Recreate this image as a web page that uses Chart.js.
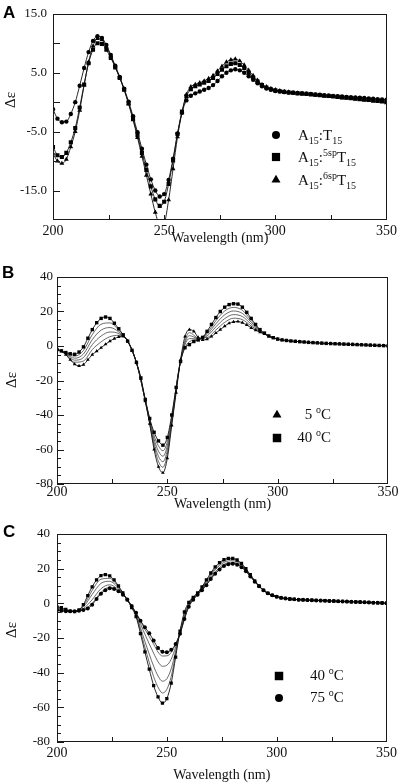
<!doctype html>
<html>
<head>
<meta charset="utf-8">
<title>CD spectra</title>
<script src="https://cdn.jsdelivr.net/npm/chart.js"></script>
<style>
  body { margin: 0; background: #fff; }
  canvas { position: absolute; left: 0; }
</style>
</head>
<body>
<canvas id="chartA" width="400" height="250" style="top:0"></canvas>
<canvas id="chartB" width="400" height="260" style="top:255px"></canvas>
<canvas id="chartC" width="400" height="269" style="top:515px"></canvas>

<script>
// wavelengths (nm), 2 nm steps
var nm = [200,202,204,206,208,210,212,214,216,218,220,222,224,226,228,230,232,234,236,238,
          240,242,244,246,248,250,252,254,256,258,260,262,264,266,268,270,272,274,276,278,
          280,282,284,286,288,290,292,294,296,298,300,302,304,306,308,310,312,314,316,318,
          320,322,324,326,328,330,332,334,336,338,340,342,344,346,348,350];
// sparse wavelengths for the plain intermediate curves
var midNm = [200,204,208,212,216,220,224,228,232,236,240,244,246,248,250,252,256,260,264,268,272,276,280,284,288,292,296,300];

var xLabels = [200, 250, 300, 350];
var xTicks = [225, 250, 275, 300, 325];

// panel A
var aCircle = [-1.2,-2.8,-3.4,-3.3,-2.0,0.0,2.8,5.8,8.5,10.4,
  11.2,10.9,9.7,8.0,6.2,4.3,2.3,0.1,-2.4,-5.1,
  -7.9,-10.6,-13.1,-15.0,-16.0,-15.6,-13.2,-9.6,-5.3,-1.8,
  0.3,1.1,1.5,1.8,2.1,2.4,2.9,3.6,4.4,5.0,
  5.4,5.6,5.4,5.0,4.4,3.8,3.2,2.7,2.3,2.1,
  1.9,1.8,1.7,1.65,1.6,1.55,1.5,1.45,1.4,1.3,
  1.25,1.2,1.15,1.05,1.0,0.95,0.9,0.85,0.8,0.75,
  0.7,0.65,0.6,0.5,0.45,0.4];
var aSquare = [-7.6,-9.0,-9.3,-8.6,-6.8,-4.4,-0.9,3.0,6.6,8.9,
  10.0,9.9,8.9,7.5,5.9,4.1,2.1,-0.2,-2.8,-5.6,
  -8.6,-11.5,-14.3,-16.5,-17.6,-16.9,-13.9,-9.9,-5.4,-1.6,
  1.0,2.2,2.7,3.0,3.3,3.6,4.1,4.8,5.5,6.1,
  6.5,6.6,6.3,5.8,5.0,4.2,3.5,2.9,2.5,2.2,
  2.0,1.85,1.75,1.65,1.6,1.5,1.45,1.4,1.3,1.25,
  1.2,1.1,1.05,1.0,0.9,0.85,0.8,0.7,0.65,0.6,
  0.5,0.45,0.4,0.3,0.2,0.1];
var aTriangle = [-8.7,-10.0,-10.4,-9.7,-7.6,-5.0,-1.4,2.9,6.8,9.5,
  10.8,10.6,9.4,7.8,6.0,4.2,2.1,-0.3,-3.0,-6.0,
  -9.2,-12.4,-15.6,-18.7,-20.8,-20.5,-16.6,-11.3,-5.9,-1.8,
  1.3,2.6,3.0,3.3,3.6,4.0,4.5,5.3,6.1,6.8,
  7.2,7.3,7.0,6.3,5.4,4.5,3.7,3.0,2.6,2.3,
  2.1,1.95,1.8,1.7,1.6,1.5,1.45,1.35,1.3,1.2,
  1.1,1.05,0.95,0.9,0.8,0.7,0.65,0.55,0.5,0.4,
  0.3,0.25,0.15,0.1,0.0,-0.1];
var aYLabels = [-15, -5, 5, 15];
var aYTicks = [-15, -10, -5, 0, 5, 10];

// panel B
var b40 = [-2.0,-2.8,-3.8,-4.5,-4.8,-3.5,-0.5,4.5,9.5,13.5,
  16.0,16.8,16.0,13.2,10.0,6.5,2.8,-2.5,-9.5,-18.5,
  -31.0,-42.0,-50.0,-55.0,-57.5,-53.0,-40.0,-24.0,-9.0,-1.0,
  0.8,2.6,3.5,5.0,8.5,12.5,16.5,20.0,22.5,24.0,
  24.5,24.3,22.5,19.5,16.0,12.5,9.5,7.5,5.8,4.8,
  4.0,3.5,3.2,2.9,2.7,2.5,2.3,2.1,1.95,1.8,
  1.65,1.5,1.4,1.3,1.2,1.1,1.0,0.9,0.8,0.7,
  0.6,0.5,0.4,0.3,0.2,0.1];
var b5 = [-2.0,-3.0,-5.0,-8.0,-10.5,-11.5,-10.8,-8.0,-5.0,-3.0,
  -1.0,1.0,2.8,4.3,5.3,5.6,3.0,-2.5,-9.8,-19.0,
  -32.0,-45.0,-60.0,-70.0,-73.5,-65.0,-46.0,-27.0,-8.0,5.5,
  9.5,8.5,5.0,3.5,4.0,5.5,7.5,9.5,11.5,13.2,
  14.0,14.2,13.5,12.2,10.5,9.2,8.0,7.0,5.7,4.6,
  4.0,3.5,3.2,2.9,2.7,2.5,2.3,2.1,1.95,1.8,
  1.65,1.5,1.4,1.3,1.2,1.1,1.0,0.9,0.8,0.7,
  0.6,0.5,0.4,0.3,0.2,0.1];
var bMid1 = [-2,-4.0,-5.9,-2.6,6.6,12.6,13.4,9.1,2.8,-9.6,-31.2,-52,-58,-60.7,-55.4,-41.2,-8.8,2.5,3.8,7.6,14.7,20.3,22.4,20.7,14.9,9.2,5.8,4.0];
var bMid2 = [-2,-4.3,-7.1,-4.6,3.7,9.2,10.7,8.1,2.9,-9.6,-31.4,-54,-61,-63.9,-57.8,-42.4,-8.6,4.3,4.1,6.7,12.9,18.1,20.3,18.9,13.8,8.9,5.8,4.0];
var bMid3 = [-2,-4.5,-8.2,-6.7,0.8,5.8,8.1,7.2,2.9,-9.7,-31.6,-56,-64,-67.1,-60.2,-43.6,-8.4,6.0,4.4,5.8,11.1,15.9,18.2,17.1,12.7,8.6,5.7,4.0];
var bMid4 = [-2,-4.8,-9.4,-8.7,-2.1,2.4,5.4,6.2,3.0,-9.7,-31.8,-58,-67,-70.3,-62.6,-44.8,-8.2,7.8,4.7,4.9,9.3,13.7,16.1,15.3,11.6,8.3,5.7,4.0];

// panel C
var c40 = [-2.0,-2.5,-3.5,-4.5,-4.8,-3.8,-0.8,4.5,9.5,13.5,
  16.0,16.5,15.8,13.5,10.0,6.0,2.0,-2.5,-7.7,-17.5,
  -28.0,-38.0,-47.5,-54.0,-57.6,-55.0,-46.0,-31.0,-16.0,-5.0,
  0.5,3.5,6.0,9.5,13.5,17.5,21.0,23.5,25.2,26.0,
  26.0,25.0,23.0,20.0,16.5,13.0,10.0,7.5,5.8,4.6,
  3.8,3.2,2.8,2.5,2.3,2.1,2.0,1.9,1.8,1.7,
  1.6,1.5,1.4,1.3,1.2,1.1,1.0,0.9,0.8,0.7,
  0.6,0.5,0.4,0.3,0.2,0.1];
var c75 = [-4.0,-4.3,-4.5,-4.6,-4.5,-4.3,-3.8,-3.0,-0.8,2.5,
  5.5,7.5,8.7,8.3,7.0,5.0,2.2,-1.5,-5.5,-10.0,
  -13.8,-17.2,-21.5,-25.8,-28.0,-28.2,-26.8,-23.5,-17.5,-9.0,
  -2.0,2.0,5.0,7.5,10.5,14.0,17.0,19.5,21.5,22.5,
  22.8,22.3,20.8,18.5,15.5,12.5,9.8,7.5,5.8,4.6,
  3.8,3.2,2.8,2.5,2.3,2.1,2.0,1.9,1.8,1.7,
  1.6,1.5,1.4,1.3,1.2,1.1,1.0,0.9,0.8,0.7,
  0.6,0.5,0.4,0.3,0.2,0.1];
var cMid1 = [-2.4,-3.7,-4.7,-1.4,7.4,13.9,14.4,9.4,2.0,-7.3,-25.2,-42.3,-48.4,-51.7,-49.6,-42.2,-16.3,0.0,5.8,12.9,20.2,24.5,25.4,22.6,16.3,10.0,5.8,3.8];
var cMid2 = [-2.9,-3.9,-4.7,-2.1,5.1,11.5,12.7,8.7,2.1,-6.8,-21.9,-36.3,-41.9,-44.9,-43.5,-37.7,-16.6,-0.6,5.6,12.2,19.3,23.6,24.6,22.1,16.1,9.9,5.8,3.8];
var cMid3 = [-3.4,-4.2,-4.6,-3.0,2.1,8.4,10.7,7.8,2.1,-6.1,-17.8,-28.8,-33.7,-36.3,-35.7,-32.2,-17.1,-1.3,5.3,11.3,18.1,22.5,23.7,21.4,15.8,9.9,5.8,3.8];
var cMid4 = [-3.8,-4.4,-4.5,-3.6,0.0,6.3,9.3,7.2,2.2,-5.7,-14.9,-23.6,-28.1,-30.4,-30.3,-28.3,-17.4,-1.8,5.1,10.7,17.3,21.8,23.1,21.0,15.6,9.8,5.8,3.8];

var bcYLabels = [-80, -60, -40, -20, 0, 20, 40];
var bcYMinor = [-75,-70,-65,-55,-50,-45,-35,-30,-25,-15,-10,-5,5,10,15,25,30,35];

Chart.defaults.font.family = '"Liberation Serif", "Times New Roman", serif';
Chart.defaults.color = '#111';

function pts(xs, ys) {
    return ys.map(function (v, i) { return {x: xs[i], y: v}; });
}
function marked(ys, style, r) {
    return {
        data: pts(nm, ys), borderColor: '#111', borderWidth: 0.9,
        pointStyle: style, pointRadius: r, pointBackgroundColor: '#000', pointBorderWidth: 0,
        cubicInterpolationMode: 'monotone'
    };
}
function plain(ys) {
    return {
        data: pts(midNm, ys), borderColor: '#444', borderWidth: 0.8,
        pointRadius: 0, cubicInterpolationMode: 'monotone'
    };
}

// text with sub/superscripts: parts = [[text, 'n'|'sub'|'sup'], ...]
function drawRich(ctx, parts, x, y, align, size) {
    function font(k) { return (k === 'n' ? size : Math.round(size * 0.68)) + 'px "Liberation Serif"'; }
    function shift(k) { return k === 'sub' ? size * 0.28 : (k === 'sup' ? -size * 0.4 : 0); }
    var w = 0;
    parts.forEach(function (p) { ctx.font = font(p[1]); w += ctx.measureText(p[0]).width; });
    var cx = align === 'right' ? x - w : x;
    ctx.textAlign = 'left';
    ctx.textBaseline = 'alphabetic';
    parts.forEach(function (p) {
        ctx.font = font(p[1]);
        ctx.fillText(p[0], cx, y + shift(p[1]));
        cx += ctx.measureText(p[0]).width;
    });
}

// frame, inward ticks, titles, panel letter and legend
var decor = {
    id: 'decor',
    afterDraw: function (chart, args, o) {
        var ctx = chart.ctx, a = chart.chartArea, sx = chart.scales.x, sy = chart.scales.y;
        ctx.save();
        ctx.strokeStyle = '#1a1a1a';
        ctx.lineWidth = 1;
        ctx.strokeRect(Math.round(a.left) + 0.5, Math.round(a.top) + 0.5, Math.round(a.width) - 1, Math.round(a.height) - 1);
        ctx.beginPath();
        xTicks.forEach(function (v) {
            var px = Math.round(sx.getPixelForValue(v)) + 0.5;
            ctx.moveTo(px, a.bottom); ctx.lineTo(px, a.bottom - 5);
        });
        o.yMajor.forEach(function (v) {
            var py = Math.round(sy.getPixelForValue(v)) + 0.5;
            ctx.moveTo(a.left, py); ctx.lineTo(a.left + 7, py);
        });
        o.yMinor.forEach(function (v) {
            var py = Math.round(sy.getPixelForValue(v)) + 0.5;
            ctx.moveTo(a.left, py); ctx.lineTo(a.left + 4, py);
        });
        ctx.stroke();

        ctx.fillStyle = '#000';
        ctx.font = 'bold 17px "Liberation Sans"';
        ctx.textAlign = 'left';
        ctx.textBaseline = 'alphabetic';
        ctx.fillText(o.letter, o.letterX, o.letterY);

        ctx.fillStyle = '#111';
        ctx.font = '14px "Liberation Serif"';
        ctx.textAlign = 'center';
        ctx.textBaseline = 'middle';
        ctx.fillText('Wavelength (nm)', (a.left + a.right) / 2, o.xTitleY);

        ctx.save();
        ctx.translate(o.yTitleX, o.yTitleY);
        ctx.rotate(-Math.PI / 2);
        ctx.font = '15px "Liberation Serif"';
        ctx.fillText('Δε', 0, 0);
        ctx.restore();

        o.legend.forEach(function (it) {
            ctx.fillStyle = '#000';
            Chart.helpers.drawPoint(ctx, {pointStyle: it.style, radius: it.r, borderWidth: 0}, it.mx, it.my);
            ctx.fillStyle = '#111';
            drawRich(ctx, it.text, it.tx, it.ty, it.align, 15);
        });
        ctx.restore();
    }
};

function spectrumChart(id, o) {
    return new Chart(document.getElementById(id), {
        type: 'line',
        data: {datasets: o.datasets},
        options: {
            responsive: false,
            animation: false,
            devicePixelRatio: 1,
            events: [],
            layout: {padding: {top: o.top, right: 400 - o.right, left: 0, bottom: 0}},
            scales: {
                x: {
                    type: 'linear', min: 200, max: 350,
                    grid: {display: false, drawTicks: false}, border: {display: false},
                    afterBuildTicks: function (s) { s.ticks = xLabels.map(function (v) { return {value: v}; }); },
                    afterFit: function (s) { s.height = o.xAxisH; },
                    ticks: {padding: o.xPad, maxRotation: 0, font: {size: 14}}
                },
                y: {
                    min: o.yMin, max: o.yMax,
                    grid: {display: false, drawTicks: false}, border: {display: false},
                    afterBuildTicks: function (s) { s.ticks = o.yLabels.map(function (v) { return {value: v}; }); },
                    afterFit: function (s) { s.width = o.left; },
                    ticks: {padding: o.yPad, font: {size: 13}, callback: o.yFmt}
                }
            },
            plugins: {
                legend: {display: false},
                tooltip: {enabled: false},
                decor: o.decor
            }
        },
        plugins: [decor]
    });
}

spectrumChart('chartA', {
    top: 11, left: 53, right: 387, xAxisH: 30, xPad: 3,
    yMin: -20, yMax: 15, yLabels: aYLabels, yPad: 6,
    yFmt: function (v) { return v.toFixed(1); },
    datasets: [
        marked(aCircle, 'circle', 2.2),
        marked(aSquare, 'rect', 2.9),
        marked(aTriangle, 'triangle', 2.8)
    ],
    decor: {
        yMajor: aYTicks, yMinor: [],
        letter: 'A', letterX: 3, letterY: 18,
        xTitleY: 238, yTitleX: 11, yTitleY: 100,
        legend: [
            {style: 'circle', r: 4, mx: 276, my: 135, tx: 298, ty: 140, align: 'left',
             text: [['A', 'n'], ['15', 'sub'], [':T', 'n'], ['15', 'sub']]},
            {style: 'rect', r: 5.8, mx: 276, my: 157, tx: 298, ty: 162, align: 'left',
             text: [['A', 'n'], ['15', 'sub'], [':', 'n'], ['5sp', 'sup'], ['T', 'n'], ['15', 'sub']]},
            {style: 'triangle', r: 5.2, mx: 276, my: 180, tx: 298, ty: 185, align: 'left',
             text: [['A', 'n'], ['15', 'sub'], [':', 'n'], ['6sp', 'sup'], ['T', 'n'], ['15', 'sub']]}
        ]
    }
});

spectrumChart('chartB', {
    top: 22, left: 57, right: 388, xAxisH: 31, xPad: 0,
    yMin: -80, yMax: 40, yLabels: bcYLabels, yPad: 4,
    yFmt: function (v) { return String(v); },
    datasets: [
        marked(b5, 'triangle', 2.1),
        marked(b40, 'rect', 2.4),
        plain(bMid1), plain(bMid2), plain(bMid3), plain(bMid4)
    ],
    decor: {
        yMajor: bcYLabels, yMinor: bcYMinor,
        letter: 'B', letterX: 2, letterY: 23,
        xTitleY: 249, yTitleX: 12, yTitleY: 125,
        legend: [
            {style: 'triangle', r: 5.2, mx: 277, my: 160, tx: 331, ty: 164, align: 'right',
             text: [['5 ', 'n'], ['o', 'sup'], ['C', 'n']]},
            {style: 'rect', r: 6, mx: 277, my: 183, tx: 331, ty: 187, align: 'right',
             text: [['40 ', 'n'], ['o', 'sup'], ['C', 'n']]}
        ]
    }
});

spectrumChart('chartC', {
    top: 19, left: 57, right: 388, xAxisH: 42, xPad: 3,
    yMin: -80, yMax: 40, yLabels: bcYLabels, yPad: 7,
    yFmt: function (v) { return String(v); },
    datasets: [
        marked(c75, 'circle', 2.0),
        marked(c40, 'rect', 2.3),
        plain(cMid1), plain(cMid2), plain(cMid3), plain(cMid4)
    ],
    decor: {
        yMajor: bcYLabels, yMinor: bcYMinor,
        letter: 'C', letterX: 3, letterY: 22,
        xTitleY: 260, yTitleX: 12, yTitleY: 115,
        legend: [
            {style: 'rect', r: 6, mx: 279, my: 161, tx: 310, ty: 165, align: 'left',
             text: [['40 ', 'n'], ['o', 'sup'], ['C', 'n']]},
            {style: 'circle', r: 4, mx: 279, my: 183, tx: 310, ty: 187, align: 'left',
             text: [['75 ', 'n'], ['o', 'sup'], ['C', 'n']]}
        ]
    }
});
</script>
</body>
</html>
